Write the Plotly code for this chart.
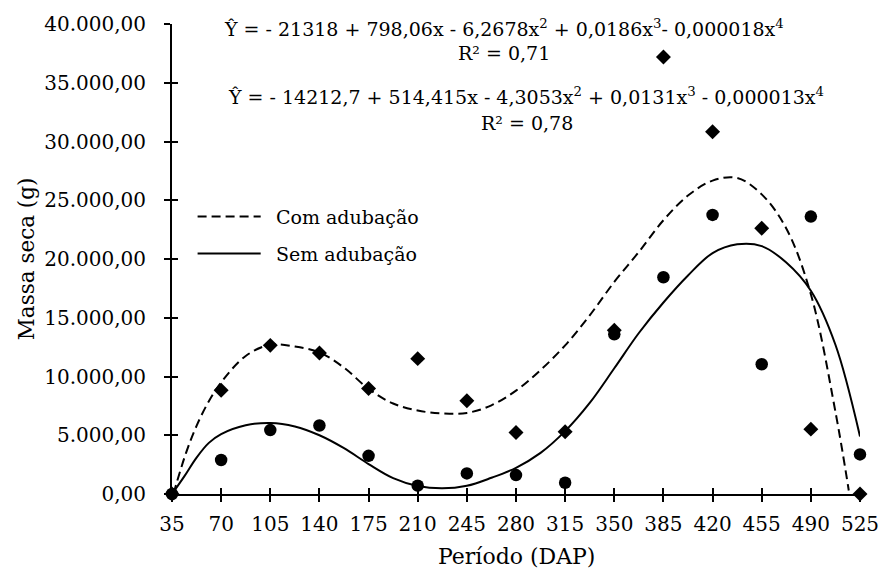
import plotly.graph_objects as go

# ---- data ----
dap = [35, 70, 105, 140, 175, 210, 245, 280, 315, 350, 385, 420, 455, 490, 525]
com_obs = [0, 8830, 12650, 12000, 8980, 11520, 7930, 5240, 5290, 13930, 37200, 30830, 22620, 5520, 0]
sem_obs = [0, 2890, 5440, 5830, 3250, 710, 1750, 1610, 960, 13590, 18450, 23750, 11040, 23610, 3370]

# fitted curves
com_fit_x = [36, 45, 52.5, 61.25, 70, 87.5, 105, 122.5, 140, 157.5, 175, 192.5, 210, 227.5, 245, 262.5,
             280, 297.5, 315, 332.5, 350, 367.5, 385, 402.5, 420, 437.5, 455, 472.5, 490, 507.5, 517]
com_fit_y = [0, 3500, 5800, 7900, 9500, 11750, 12700, 12550, 12050, 10750, 8950, 7700, 7100, 6860, 6900, 7550,
             8800, 10550, 12650, 15200, 18050, 20600, 23300, 25400, 26670, 26900, 25500, 22600, 17000, 7000, 300]
sem_fit_x = [35, 43.75, 52.5, 61.25, 70, 87.5, 105, 122.5, 140, 157.5, 175, 192.5, 210, 227.5, 245, 262.5,
             280, 297.5, 315, 332.5, 350, 367.5, 385, 402.5, 420, 437.5, 455, 472.5, 490, 507.5, 525]
sem_fit_y = [0, 1500, 3100, 4350, 5100, 5850, 6050, 5750, 5000, 3900, 2550, 1350, 680, 480, 700, 1380,
             2230, 3500, 5350, 7750, 10700, 13700, 16300, 18600, 20500, 21250, 21100, 19700, 17300, 12700, 4900]

y_tickvals = [0, 5000, 10000, 15000, 20000, 25000, 30000, 35000, 40000]
y_ticktext = ["0,00", "5.000,00", "10.000,00", "15.000,00", "20.000,00",
              "25.000,00", "30.000,00", "35.000,00", "40.000,00"]
x_tickvals = dap

series_names = ["Com adubação", "Sem adubação"]
eq_com = "Ŷ = - 21318 + 798,06x - 6,2678x<sup>2</sup> + 0,0186x<sup>3</sup>- 0,000018x<sup>4</sup>"
r2_com = "R² = 0,71"
eq_sem = "Ŷ = - 14212,7 + 514,415x - 4,3053x<sup>2</sup> + 0,0131x<sup>3</sup> - 0,000013x<sup>4</sup>"
r2_sem = "R² = 0,78"

FONT = "DejaVu Serif"
BLACK = "#000000"

fig = go.Figure()
fig.add_trace(go.Scatter(x=com_fit_x, y=com_fit_y, mode="lines", line=dict(color=BLACK, width=2, dash="9px,5px", shape="spline"),
                         showlegend=False, cliponaxis=False, hoverinfo="skip"))
fig.add_trace(go.Scatter(x=sem_fit_x, y=sem_fit_y, mode="lines", line=dict(color=BLACK, width=2, shape="spline"),
                         showlegend=False, cliponaxis=False, hoverinfo="skip"))
fig.add_trace(go.Scatter(x=dap, y=sem_obs, mode="markers", marker=dict(symbol="circle", size=12.5, color=BLACK),
                         showlegend=False, cliponaxis=False))
fig.add_trace(go.Scatter(x=dap, y=com_obs, mode="markers", marker=dict(symbol="diamond", size=11.5, color=BLACK),
                         showlegend=False, cliponaxis=False))
# invisible trace for overlay axes (inner half of crossing ticks)
fig.add_trace(go.Scatter(x=[None], y=[None], xaxis="x2", yaxis="y2", showlegend=False, hoverinfo="skip"))

tickfont = dict(family=FONT, size=20, color=BLACK)
fig.update_layout(
    width=891, height=575,
    margin=dict(l=172, r=21, t=23, b=81),
    paper_bgcolor="white", plot_bgcolor="white",
    font=dict(family=FONT, color=BLACK, size=20),
    xaxis=dict(range=[35, 525], tickvals=x_tickvals, ticks="outside", ticklen=6, tickwidth=2, tickcolor=BLACK,
               showline=True, linecolor=BLACK, linewidth=2, showgrid=False, zeroline=False,
               tickfont=tickfont, ticklabelstandoff=5),
    yaxis=dict(range=[0, 40000], tickvals=y_tickvals, ticktext=y_ticktext, ticks="outside", ticklen=6, tickwidth=2,
               tickcolor=BLACK, showline=True, linecolor=BLACK, linewidth=2, showgrid=False, zeroline=False,
               tickfont=tickfont, ticklabelstandoff=14),
    xaxis2=dict(range=[35, 525], overlaying="x", anchor="y2", side="bottom", tickvals=x_tickvals, ticks="inside",
                ticklen=6, tickwidth=2, tickcolor=BLACK, showticklabels=False, showline=False, showgrid=False, zeroline=False),
    yaxis2=dict(range=[0, 40000], overlaying="y", anchor="x2", side="left", tickvals=y_tickvals, ticks="inside",
                ticklen=6, tickwidth=2, tickcolor=BLACK, showticklabels=False, showline=False, showgrid=False, zeroline=False),
    showlegend=False,
)

annos = [
    dict(text=eq_com, x=0.4828, y=0.9915, size=19),
    dict(text=r2_com, x=0.4828, y=0.9384, size=19),
    dict(text=eq_sem, x=0.5143, y=0.8471, size=19),
    dict(text=r2_sem, x=0.5158, y=0.7898, size=19),
]
for a in annos:
    fig.add_annotation(text=a["text"], x=a["x"], y=a["y"], xref="paper", yref="paper", showarrow=False,
                       xanchor="center", yanchor="middle", font=dict(family=FONT, size=a["size"], color=BLACK))

# axis titles
fig.add_annotation(text="Massa seca (g)", x=-0.212, y=0.5, xref="paper", yref="paper", textangle=-90, showarrow=False,
                   xanchor="center", yanchor="middle", font=dict(family=FONT, size=21.5, color=BLACK))
fig.add_annotation(text="Período (DAP)", x=0.5014, y=-0.134, xref="paper", yref="paper", showarrow=False,
                   xanchor="center", yanchor="middle", font=dict(family=FONT, size=22, color=BLACK))

# manual legend
leg_y = [0.5902, 0.5117]
leg_dash = ["9px,5px", "solid"]
for name, yy, dsh in zip(series_names, leg_y, leg_dash):
    fig.add_shape(type="line", xref="paper", yref="paper", x0=0.0372, x1=0.1289, y0=yy, y1=yy,
                  line=dict(color=BLACK, width=2, dash=dsh))
    fig.add_annotation(text=name, x=0.1476, y=yy, xref="paper", yref="paper", showarrow=False,
                       xanchor="left", yanchor="middle", font=dict(family=FONT, size=19, color=BLACK))

fig.write_html("out.html")
